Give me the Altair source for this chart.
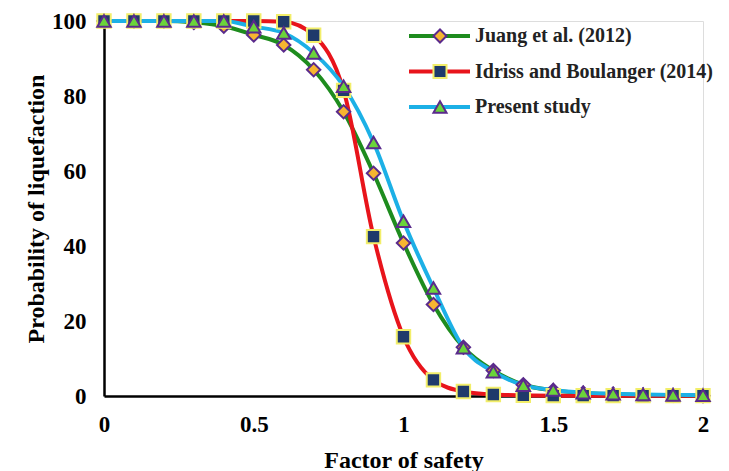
import altair as alt
import pandas as pd

# ---- data ----
factor_of_safety = [0.0, 0.1, 0.2, 0.3, 0.4, 0.5, 0.6, 0.7, 0.8, 0.9, 1.0,
                    1.1, 1.2, 1.3, 1.4, 1.5, 1.6, 1.7, 1.8, 1.9, 2.0]
series_names = ["Juang et al. (2012)", "Idriss and Boulanger (2014)", "Present study"]
series_codes = ["J", "I", "P"]
juang = [100, 100, 100, 99.6, 98.6, 96.3, 93.6, 87.0, 75.8, 59.4, 40.8,
         24.4, 13.0, 6.8, 3.0, 1.5, 0.8, 0.5, 0.3, 0.2, 0.1]
idriss = [100, 100, 100, 100, 100, 100, 99.8, 96.2, 81.5, 42.5, 15.8,
          4.3, 1.2, 0.4, 0.2, 0.1, 0.1, 0.1, 0.1, 0.1, 0.1]
present = [100, 100, 100, 100, 100, 98.5, 96.8, 91.5, 82.6, 67.6, 46.6,
           28.8, 12.9, 6.5, 2.9, 1.6, 0.9, 0.6, 0.4, 0.3, 0.2]
y_ticks = [0, 20, 40, 60, 80, 100]
x_ticks = [0, 0.5, 1, 1.5, 2]

line_colors = ["#1E8C1E", "#E8141B", "#1CB0E6"]
marker_fills = ["#F7B530", "#1F3A6B", "#6BD43A"]
marker_strokes = ["#5A2A8C", "#F2EE6A", "#5A2A8C"]
marker_shapes = ["diamond", "square", "triangle-up"]

rows = []
for name, code, vals in zip(series_names, series_codes, [juang, idriss, present]):
    for fs, p in zip(factor_of_safety, vals):
        rows.append({"fs": fs, "p": p, "series": name, "code": code})
df = pd.DataFrame(rows)

FONT = "Liberation Serif"

x_enc = alt.X("fs:Q", scale=alt.Scale(domain=[0, 2], nice=False),
              axis=alt.Axis(values=x_ticks, format="~g", title="Factor of safety",
                            ticks=False, grid=False, domainColor="black", domainWidth=2.5,
                            labelFont=FONT, labelFontWeight="bold", labelFontSize=23,
                            labelColor="black", labelPadding=17, labelFlush=False,
                            titleFont=FONT, titleFontWeight="bold", titleFontSize=24,
                            titleColor="black", titlePadding=12))
y_enc = alt.Y("p:Q", scale=alt.Scale(domain=[0, 100], nice=False),
              axis=alt.Axis(values=y_ticks, title="Probability of liquefaction",
                            ticks=False, grid=False, domainColor="black", domainWidth=2.5,
                            labelFont=FONT, labelFontWeight="bold", labelFontSize=23,
                            labelColor="black", labelPadding=18, labelFlush=False,
                            titleFont=FONT, titleFontWeight="bold", titleFontSize=24,
                            titleColor="black", titlePadding=3))

line_legend = alt.Legend(orient="none", legendX=303, legendY=4, title=None,
                         symbolType="stroke", symbolSize=3721, symbolStrokeWidth=4,
                         labelFont=FONT, labelFontWeight="bold", labelFontSize=20,
                         labelColor="#222222", labelOffset=3, clipHeight=22,
                         rowPadding=13.5, padding=0, labelLimit=400)

shape_legend = alt.Legend(orient="none", legendX=326, legendY=4, title=None,
                          symbolSize=170, symbolStrokeWidth=2, symbolOpacity=1,
                          labelFont=FONT, labelFontWeight="bold", labelFontSize=20,
                          labelOpacity=0, clipHeight=22, rowPadding=13.5, padding=0,
                          labelLimit=400)

lines = alt.Chart(df).mark_line(strokeWidth=4, interpolate="monotone").encode(
    x=x_enc, y=y_enc,
    color=alt.Color("series:N", scale=alt.Scale(domain=series_names, range=line_colors),
                    legend=line_legend),
)

points = alt.Chart(df).mark_point(filled=True, strokeWidth=2, opacity=1, size=180).encode(
    x=x_enc, y=y_enc,
    fill=alt.Fill("code:N", scale=alt.Scale(domain=series_codes, range=marker_fills),
                  legend=shape_legend),
    stroke=alt.Stroke("code:N", scale=alt.Scale(domain=series_codes, range=marker_strokes),
                      legend=shape_legend),
    shape=alt.Shape("code:N", scale=alt.Scale(domain=series_codes, range=marker_shapes),
                    legend=shape_legend),
)

chart = alt.layer(lines, points).properties(
    width=599, height=375,
    autosize=alt.AutoSizeParams(type="none"),
    padding={"left": 96, "top": 13, "right": 18, "bottom": 75},
).configure_view(stroke=None).configure(background="white")

chart.save("out.html", embed_options={"renderer": "svg", "actions": False})
